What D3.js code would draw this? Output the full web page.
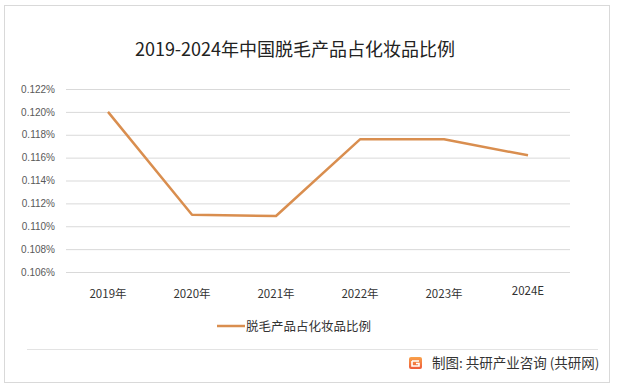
<!DOCTYPE html>
<html>
<head>
<meta charset="utf-8">
<script src="https://cdn.jsdelivr.net/npm/d3@7/dist/d3.min.js"></script>
<style>
  html, body { margin: 0; padding: 0; background: #fff; }
  svg { display: block; font-family: "Noto Sans CJK SC", "Noto Sans", sans-serif; }
</style>
</head>
<body>
<svg id="chart" width="617" height="390"></svg>
<script>
  // data
  const categories = ['2019年', '2020年', '2021年', '2022年', '2023年', '2024E'];
  const ratioValues = [0.1200, 0.1110, 0.1109, 0.1176, 0.1176, 0.1162];
  const yTicks = [0.106, 0.108, 0.110, 0.112, 0.114, 0.116, 0.118, 0.120, 0.122];
  const seriesName = '脱毛产品占化妆品比例';
  const titleText = '2019-2024年中国脱毛产品占化妆品比例';
  const sourceText = '制图: 共研产业咨询 (共研网)';

  const svg = d3.select('#chart');
  const plot = { left: 66, right: 570, top: 89, bottom: 272 };
  const lineColor = '#d98e4f';

  // outer frame
  svg.append('rect')
    .attr('x', 4.5).attr('y', 5.5)
    .attr('width', 605).attr('height', 377)
    .attr('fill', '#fff')
    .attr('stroke', '#d9d9d9');

  svg.append('text')
    .attr('x', 295).attr('y', 56)
    .attr('text-anchor', 'middle')
    .attr('font-size', 18)
    .attr('fill', '#222')
    .text(titleText);

  const x = d3.scaleBand().domain(categories).range([plot.left, plot.right]);
  const y = d3.scaleLinear().domain([0.106, 0.122]).range([plot.bottom, plot.top]);

  // grid + y labels
  const yAxis = d3.axisLeft(y)
    .tickValues(yTicks)
    .tickSize(-(plot.right - plot.left))
    .tickPadding(11)
    .tickFormat((d) => d.toFixed(3) + '%');
  const gy = svg.append('g')
    .attr('transform', `translate(${plot.left},0)`)
    .call(yAxis);
  gy.select('.domain').remove();
  gy.selectAll('line').attr('stroke', '#d9d9d9');
  gy.selectAll('text')
    .attr('fill', '#595959')
    .attr('font-size', 10)
    .attr('font-family', '"Liberation Sans", Arial, sans-serif');

  // x labels
  svg.append('g')
    .selectAll('text')
    .data(categories)
    .join('text')
    .attr('x', (d) => x(d) + x.bandwidth() / 2)
    .attr('y', (d) => d === '2024E' ? 295 : 298)
    .attr('text-anchor', 'middle')
    .attr('font-size', 11.5)
    .attr('fill', '#333')
    .text((d) => d);

  const line = d3.line()
    .x((d, i) => x(categories[i]) + x.bandwidth() / 2)
    .y((d) => y(d));

  svg.append('path')
    .datum(ratioValues)
    .attr('d', line)
    .attr('fill', 'none')
    .attr('stroke', lineColor)
    .attr('stroke-width', 2.5)
    .attr('stroke-linejoin', 'round');

  // legend
  const lg = svg.append('g').attr('transform', 'translate(217,326)');
  lg.append('line').attr('x1', 0).attr('x2', 28).attr('stroke', lineColor).attr('stroke-width', 2.5);
  lg.append('text').attr('x', 29).attr('y', 4.5).attr('font-size', 12.5).attr('fill', '#333').text(seriesName);

  // footer
  svg.append('line')
    .attr('x1', 27).attr('x2', 598)
    .attr('y1', 349.5).attr('y2', 349.5)
    .attr('stroke', '#e3e3e3');

  const grad = svg.append('defs').append('linearGradient')
    .attr('id', 'logoGrad').attr('x1', 0).attr('y1', 0).attr('x2', 0).attr('y2', 1);
  grad.append('stop').attr('offset', 0).attr('stop-color', '#f9a24a');
  grad.append('stop').attr('offset', 1).attr('stop-color', '#ee5a3a');
  const logo = svg.append('g').attr('transform', 'translate(409,357)');
  logo.append('rect').attr('width', 13).attr('height', 12).attr('rx', 2).attr('fill', 'url(#logoGrad)');
  logo.append('path').attr('d', 'M3,4 H10 M3,4 V9 H10 V6.5 H7').attr('stroke', '#fff').attr('stroke-width', 1.6).attr('fill', 'none');

  svg.append('text')
    .attr('x', 432).attr('y', 368)
    .attr('font-size', 13.5)
    .attr('fill', '#333')
    .text(sourceText);
</script>
</body>
</html>
